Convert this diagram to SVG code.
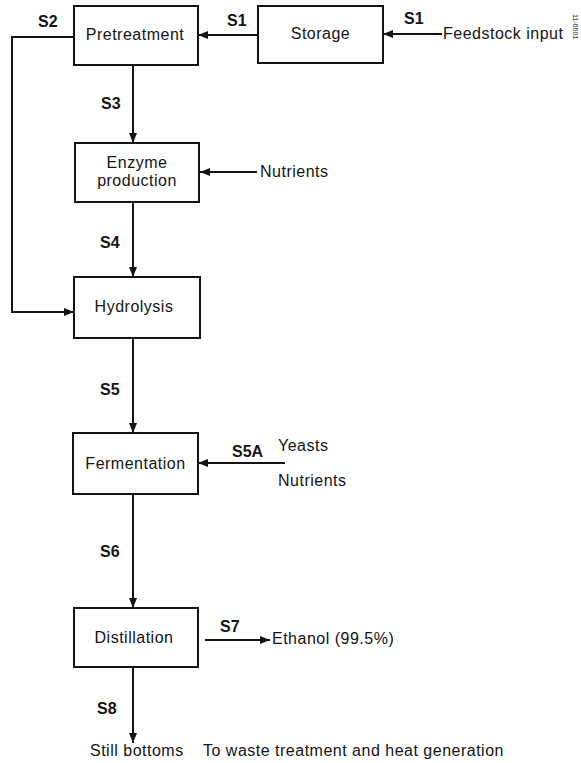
<svg xmlns="http://www.w3.org/2000/svg" width="581" height="763" viewBox="0 0 581 763">
<style>
.box{fill:#fff;stroke:#141414;stroke-width:2}
.t{font-family:"Liberation Sans",Arial,sans-serif;font-size:16px;fill:#141414;letter-spacing:0.5px}
.l{font-family:"Liberation Sans",Arial,sans-serif;font-size:16px;font-weight:bold;fill:#141414}
.c{fill:none;stroke:#141414;stroke-width:2}
</style>
<defs>
<marker id="ah" viewBox="0 0 10 8" refX="10" refY="4" markerWidth="10" markerHeight="8" markerUnits="userSpaceOnUse" orient="auto">
<path d="M0,0 L10,4 L0,8 Z" fill="#141414"/>
</marker>
</defs>
<rect width="581" height="763" fill="#fff"/>
<g id="connectors">
<line class="c" x1="442" y1="34" x2="383" y2="34" marker-end="url(#ah)"/>
<line class="c" x1="258" y1="35" x2="198" y2="35" marker-end="url(#ah)"/>
<polyline class="c" points="74,37 12,37 12,312 74,312" marker-end="url(#ah)"/>
<line class="c" x1="133" y1="65" x2="133" y2="143" marker-end="url(#ah)"/>
<line class="c" x1="257" y1="172" x2="200" y2="172" marker-end="url(#ah)"/>
<line class="c" x1="133" y1="202" x2="133" y2="277" marker-end="url(#ah)"/>
<line class="c" x1="133" y1="338" x2="133" y2="433" marker-end="url(#ah)"/>
<line class="c" x1="285" y1="463" x2="198" y2="463" marker-end="url(#ah)"/>
<line class="c" x1="133" y1="494" x2="133" y2="608" marker-end="url(#ah)"/>
<line class="c" x1="205" y1="640" x2="270" y2="640" marker-end="url(#ah)"/>
<line class="c" x1="133" y1="667" x2="133" y2="743" marker-end="url(#ah)"/>
<text class="l" x="227" y="26">S1</text>
<text class="l" x="404" y="24">S1</text>
<text class="l" x="38" y="27">S2</text>
<text class="l" x="101" y="109">S3</text>
<text class="l" x="100" y="248">S4</text>
<text class="l" x="100" y="395">S5</text>
<text class="l" x="232" y="457">S5A</text>
<text class="l" x="100" y="557">S6</text>
<text class="l" x="220" y="632">S7</text>
<text class="l" x="97" y="714">S8</text>
</g>
<g id="storage">
<rect class="box" x="258" y="6" width="125" height="57"/>
<text class="t" x="320.5" y="39" text-anchor="middle">Storage</text>
</g>
<g id="pretreatment">
<rect class="box" x="74" y="6" width="124" height="59"/>
<text class="t" x="135" y="40" text-anchor="middle">Pretreatment</text>
</g>
<g id="enzyme">
<rect class="box" x="75" y="143" width="124" height="59"/>
<text class="t" x="137" y="168" text-anchor="middle">Enzyme</text>
<text class="t" x="137" y="186" text-anchor="middle">production</text>
</g>
<g id="hydrolysis">
<rect class="box" x="74" y="277" width="126" height="61"/>
<text class="t" x="134" y="312" text-anchor="middle">Hydrolysis</text>
</g>
<g id="fermentation">
<rect class="box" x="73" y="433" width="125" height="61"/>
<text class="t" x="135.5" y="469" text-anchor="middle">Fermentation</text>
</g>
<g id="distillation">
<rect class="box" x="74" y="608" width="124" height="59"/>
<text class="t" x="134" y="643" text-anchor="middle">Distillation</text>
</g>
<g id="feedstock"><text class="t" x="443" y="39">Feedstock input</text></g>
<g id="nutrients1"><text class="t" x="260" y="177">Nutrients</text></g>
<g id="yeasts"><text class="t" x="278" y="451">Yeasts</text></g>
<g id="nutrients2"><text class="t" x="278" y="486">Nutrients</text></g>
<g id="ethanol"><text class="t" x="272" y="644">Ethanol (99.5%)</text></g>
<g id="stillbottoms"><text class="t" x="90" y="756">Still bottoms</text></g>
<g id="waste"><text class="t" x="203" y="756">To waste treatment and heat generation</text></g>
<text x="573" y="14" transform="rotate(90 573 14)" style="font-family:'Liberation Sans',Arial,sans-serif;font-size:7px;fill:#333">11-6601</text>
</svg>
